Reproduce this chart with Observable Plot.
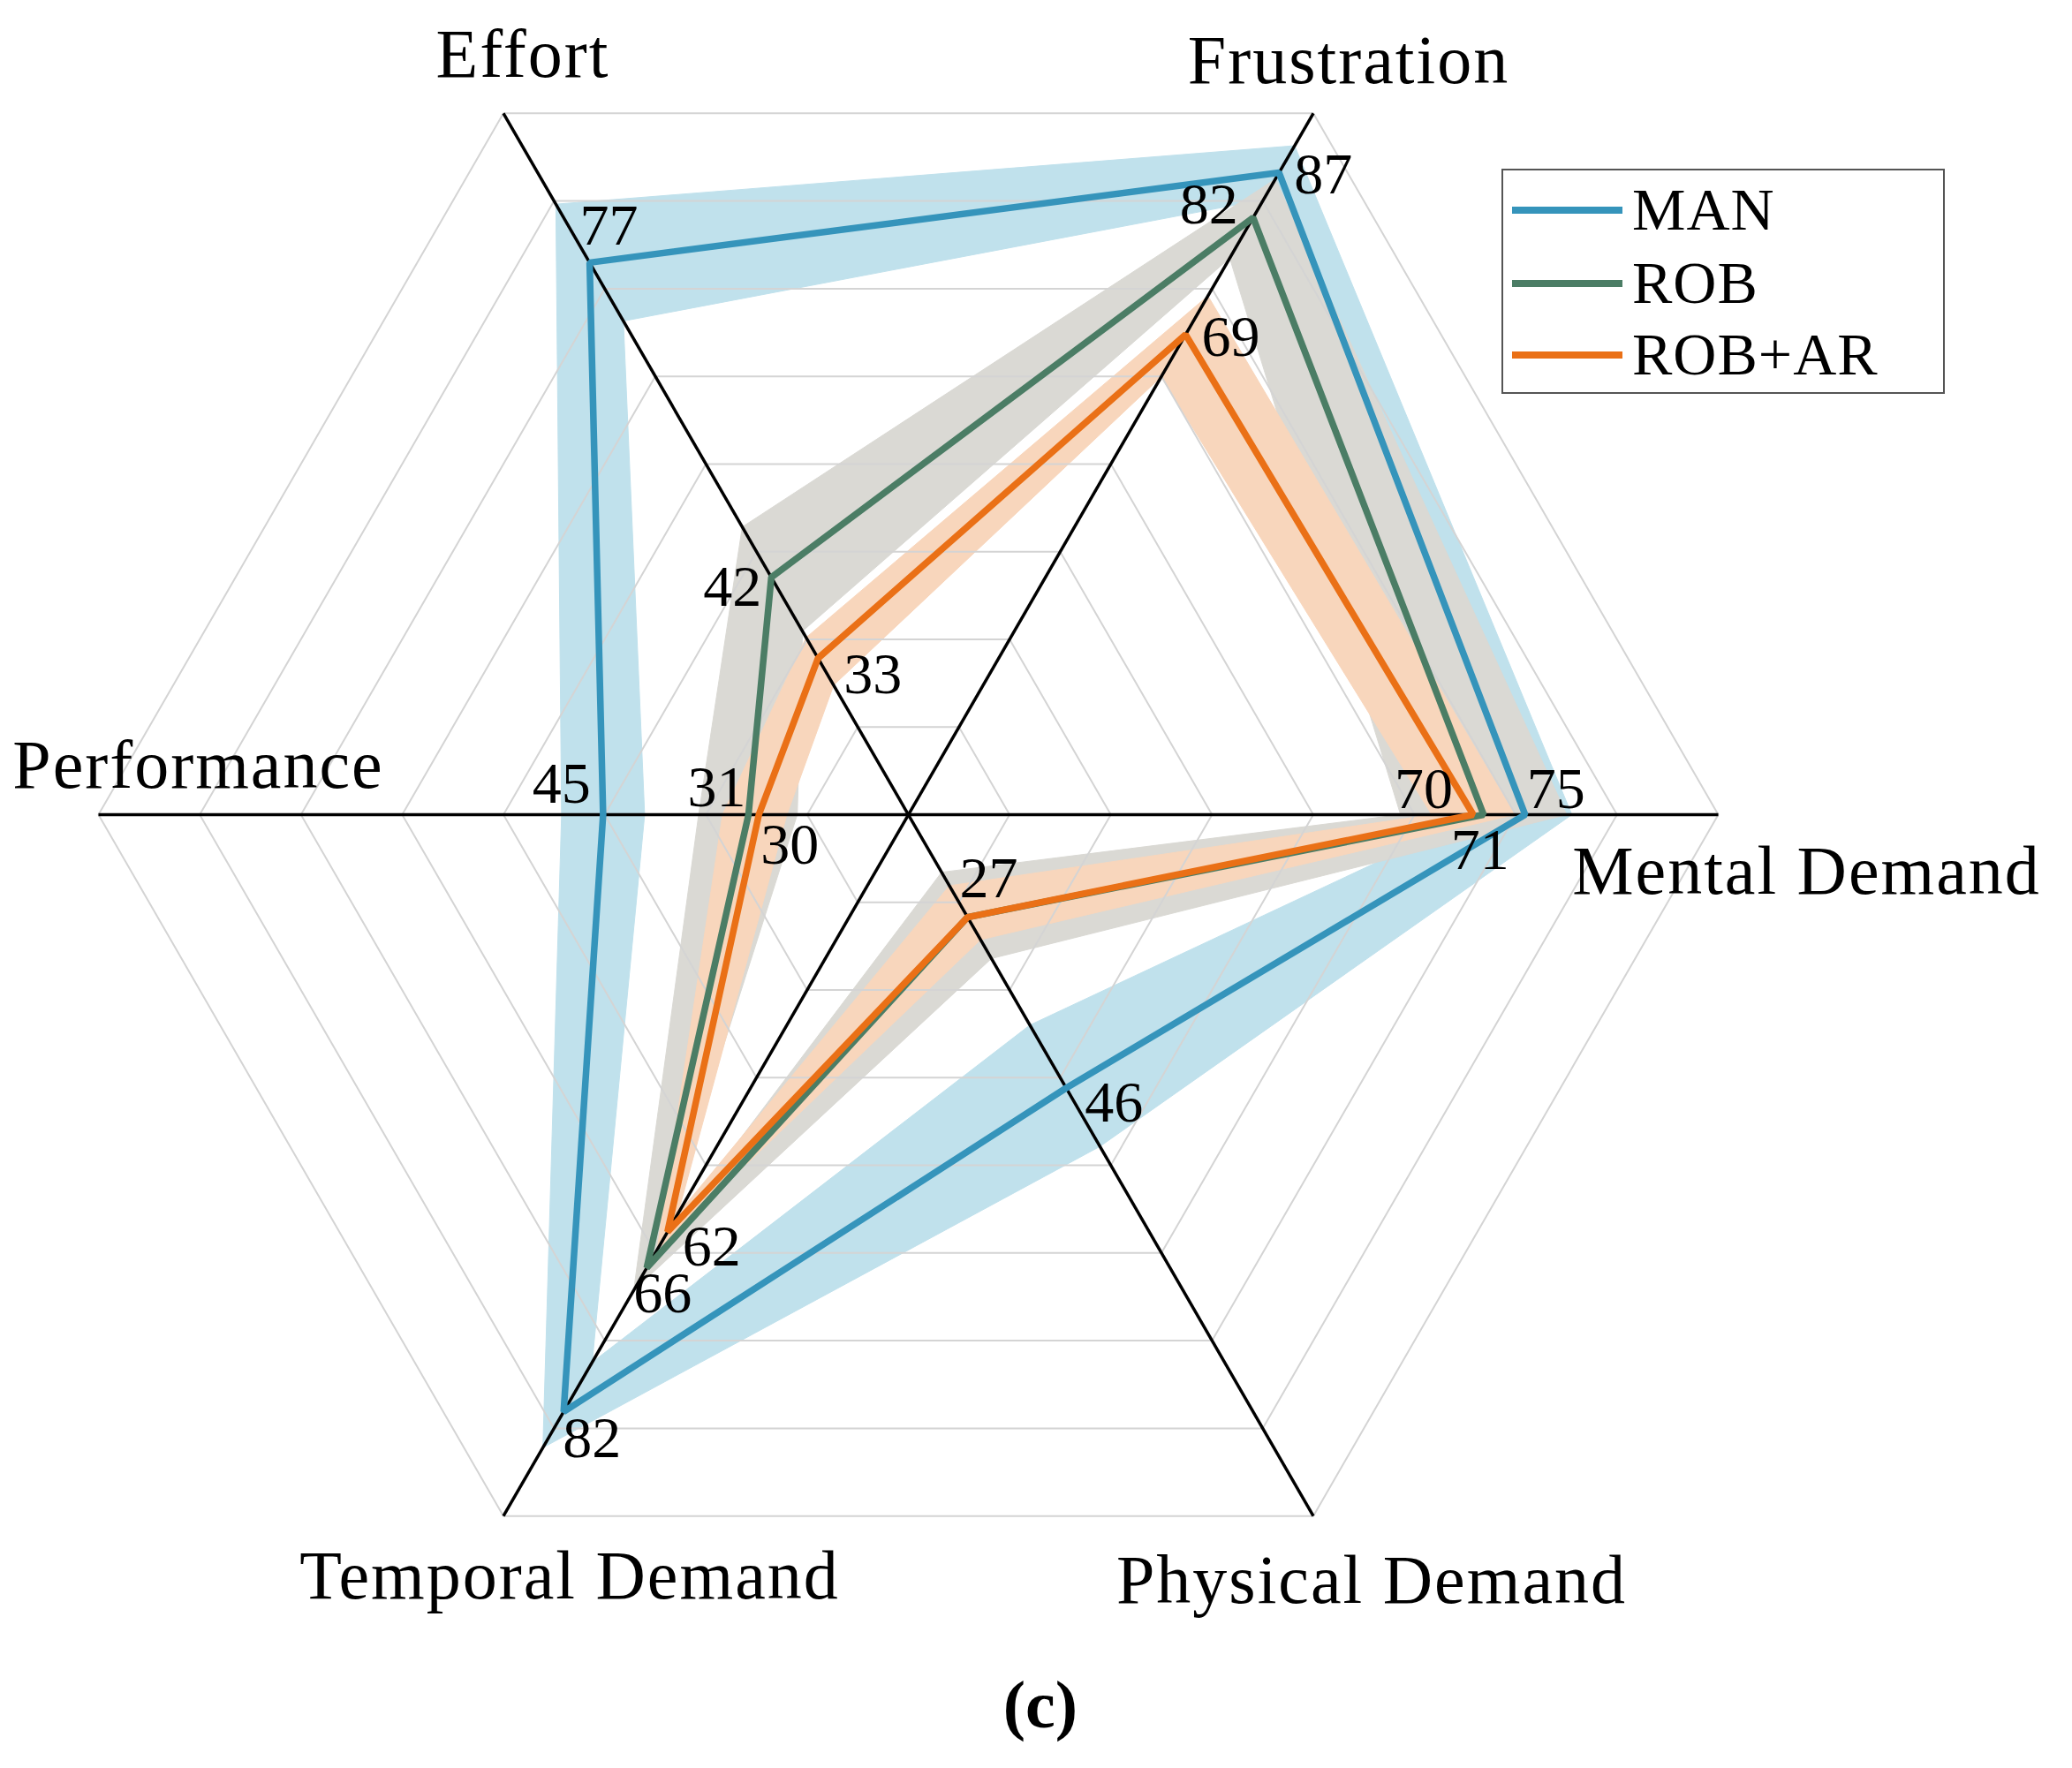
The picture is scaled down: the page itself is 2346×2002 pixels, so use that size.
<!DOCTYPE html>
<html>
<head>
<meta charset="utf-8">
<script src="https://cdn.jsdelivr.net/npm/d3@7"></script>
<script src="https://cdn.jsdelivr.net/npm/@observablehq/plot@0.6"></script>
<style>
  html, body { margin: 0; padding: 0; background: #fff; }
  body { width: 2346px; height: 2002px; position: relative; overflow: hidden;
         font-family: "Liberation Serif", "DejaVu Serif", serif; color: #000; }
  #chart { position: absolute; left: 0; top: 0; }
  #legend { position: absolute; left: 1700px; top: 191px; width: 502px; height: 255px;
            border: 2px solid #555; box-sizing: border-box; background: #fff; }
  .row { position: absolute; left: 0; height: 0; }
  .swatch { position: absolute; left: 10px; width: 125px; height: 8px; top: -4px; }
  .lab { position: absolute; left: 146px; top: -41px; font-size: 68px; line-height: 80px; white-space: nowrap; letter-spacing: 1px; }
  #caption { position: absolute; left: 0; width: 2356px; top: 1884px; text-align: center;
             font-weight: bold; font-size: 76px; line-height: 92px; }
</style>
</head>
<body>
<div id="chart"></div>
<div id="legend"></div>
<div id="caption">(c)</div>
<script>
// ---------------- data ----------------
const axes = ["Mental Demand", "Frustration", "Effort", "Performance", "Temporal Demand", "Physical Demand"];
const seriesNames = ["MAN", "ROB", "ROB+AR"];

const manMean = [75, 87, 77, 45, 82, 46];
const manLow  = [70.5, 84, 70.5, 41, 76.5, 39];
const manHigh = [79.5, 90, 83.5, 49, 86, 52.5];

const robMean = [71, 82, 42, 31, 66, 27];
const robLow  = [63, 77.5, 36, 26.3, 63.5, 22];
const robHigh = [79, 86.3, 47.6, 35.8, 68.5, 31.6];

const robArMean = [70, 69, 33, 30, 62, 27];
const robArLow  = [66, 64.3, 30, 27.3, 60, 23.5];
const robArHigh = [74, 73.3, 35.3, 33.5, 64, 29.5];

// which value labels are printed (the two coinciding 27s share one label)
const showLabel = {
  "MAN":    [true, true, true, true, true, true],
  "ROB":    [true, true, true, true, true, true],
  "ROB+AR": [true, true, true, true, true, false]
};

const radialDomain = [15.6, 93.6];
const ringCount = 8;

// ---------------- styles / layout ----------------
const W = 2346, H = 1860, CX = 1028, CY = 922, R = 917;
const lineColor = {"MAN": "#3594bb", "ROB": "#4b7d65", "ROB+AR": "#ea7016"};
const bandColor = {"MAN": "#c0e1ec", "ROB": "#dad9d4", "ROB+AR": "#f8d6bc"};
// value-label offsets in px [dx, dy(down)]
const valueOffset = {
  "MAN":    [[35, -29], [50, 2], [22, -41], [-47, -35], [32, 30], [54, 17]],
  "ROB":    [[-4, 40], [-50, -15], [-44, 11], [-36, -31], [18, 29], [24, -44]],
  "ROB+AR": [[-56, -29], [51, 3], [62, 19], [35, 34], [50, 17], [0, 0]]
};
const axisLabelOffset = [[100, 65], [40, -59], [22, -66], [113, -55], [75, 68], [66, 73]];

// ---------------- build ----------------
const series = [
  {name: "MAN", mean: manMean, low: manLow, high: manHigh},
  {name: "ROB", mean: robMean, low: robLow, high: robHigh},
  {name: "ROB+AR", mean: robArMean, low: robArLow, high: robArHigh}
];
const frac = v => (v - radialDomain[0]) / (radialDomain[1] - radialDomain[0]);
const ang = i => i * Math.PI / 3;
const pt = (f, i) => [f * Math.cos(ang(i)), f * Math.sin(ang(i))];
const n = axes.length;

// grid rings
const rings = [];
for (let k = 1; k <= ringCount; k++) {
  for (let i = 0; i < n; i++) {
    const [x, y] = pt(k / ringCount, i);
    rings.push({ring: k, x, y});
  }
}
// spokes
const spokes = axes.map((a, i) => { const [x, y] = pt(1, i); return {x1: 0, y1: 0, x2: x, y2: y}; });

// bands as quads per segment
const bands = [];
series.forEach(s => {
  for (let i = 0; i < n; i++) {
    const j = (i + 1) % n;
    const quad = [pt(frac(s.high[i]), i), pt(frac(s.high[j]), j), pt(frac(s.low[j]), j), pt(frac(s.low[i]), i)];
    quad.forEach(([x, y]) => bands.push({series: s.name, key: s.name + i, x, y}));
  }
});

// mean lines
const lines = [];
series.forEach(s => s.mean.forEach((v, i) => { const [x, y] = pt(frac(v), i); lines.push({series: s.name, x, y}); }));

// value labels
const vlabels = [];
series.forEach(s => s.mean.forEach((v, i) => {
  if (!showLabel[s.name][i]) return;
  const [x, y] = pt(frac(v), i);
  const [dx, dy] = valueOffset[s.name][i];
  vlabels.push({text: String(v), x: x + dx / R, y: y - dy / R});
}));

// axis labels
const alabels = axes.map((a, i) => {
  const [x, y] = pt(1, i);
  const [dx, dy] = axisLabelOffset[i];
  return {text: a, x: x + dx / R, y: y - dy / R};
});

const font = '"Liberation Serif", "DejaVu Serif", serif';

const chart = Plot.plot({
  width: W, height: H,
  margin: 0,
  x: {domain: [(0 - CX) / R, (W - CX) / R], axis: null},
  y: {domain: [(CY - H) / R, CY / R], axis: null},
  style: {background: "#fff", fontFamily: font, overflow: "visible"},
  marks: [
    ...series.map(s => Plot.line(bands.filter(d => d.series === s.name), {
      x: "x", y: "y", z: "key", curve: "linear-closed",
      fill: bandColor[s.name], stroke: bandColor[s.name], strokeWidth: 1
    })),
    Plot.line(rings, {x: "x", y: "y", z: "ring", curve: "linear-closed", stroke: "#d4d4d4", strokeWidth: 2}),
    Plot.link(spokes, {x1: "x1", y1: "y1", x2: "x2", y2: "y2", stroke: "#000", strokeWidth: 3.5}),
    ...series.map(s => Plot.line(lines.filter(d => d.series === s.name), {
      x: "x", y: "y", curve: "linear-closed", stroke: lineColor[s.name], strokeWidth: 7.5,
      strokeLinejoin: "miter"
    })),
    Plot.text(vlabels, {x: "x", y: "y", text: "text", fontSize: 66, fontFamily: font, fill: "#000"}),
    Plot.text(alabels, {x: "x", y: "y", text: "text", fontSize: 78, fontFamily: font, fill: "#000"})
  ]
});
document.getElementById("chart").appendChild(chart);
// slight tracking on axis labels (CM-like width)
const textGroups = chart.querySelectorAll('g[aria-label="text"]');
if (textGroups.length) textGroups[textGroups.length - 1].setAttribute("letter-spacing", "2");

// legend
const legend = document.getElementById("legend");
const rowY = [45, 128, 209];
seriesNames.forEach((name, i) => {
  const row = document.createElement("div");
  row.className = "row";
  row.style.top = rowY[i] + "px";
  const sw = document.createElement("div");
  sw.className = "swatch";
  sw.style.background = lineColor[name];
  const lab = document.createElement("div");
  lab.className = "lab";
  lab.textContent = name;
  row.appendChild(sw); row.appendChild(lab);
  legend.appendChild(row);
});
</script>
</body>
</html>
